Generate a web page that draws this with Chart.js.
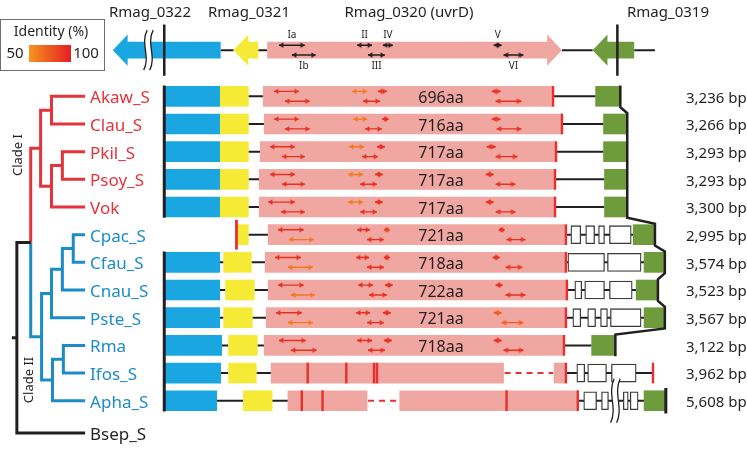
<!DOCTYPE html>
<html lang="en">
<head>
  <meta charset="UTF-8">
  <title>uvrD cluster across strains</title>
  <script src="https://cdn.jsdelivr.net/npm/chart.js@4.4.1/dist/chart.umd.min.js"></script>
  <style>
    html, body { margin: 0; padding: 0; background: #fff; }
    #wrap { width: 747px; height: 449px; }
  </style>
</head>
<body>
<div id="wrap"><canvas id="chart" width="747" height="449"></canvas></div>
<script>
  // ---------- data ----------
  const strains = ['Akaw_S', 'Clau_S', 'Pkil_S', 'Psoy_S', 'Vok', 'Cpac_S', 'Cfau_S', 'Cnau_S', 'Pste_S', 'Rma', 'Ifos_S', 'Apha_S'];
  const outgroup = 'Bsep_S';
  const outgroupRow = 12.17;
  const proteinLen = ['696aa', '716aa', '717aa', '717aa', '717aa', '721aa', '718aa', '722aa', '721aa', '718aa', '', ''];
  const clusterLen = ['3,236 bp', '3,266 bp', '3,293 bp', '3,293 bp', '3,300 bp', '2,995 bp', '3,574 bp', '3,523 bp', '3,567 bp', '3,122 bp', '3,962 bp', '5,608 bp'];

  // reference cluster (Rma) drawn on top
  const headerRow = -1.668;
  const headerGenes = ['Rmag_0322', 'Rmag_0321', 'Rmag_0320 (uvrD)', 'Rmag_0319'];
  const headerSpans = [[110, 219], [232, 257], [266, 564], [595, 637]];
  const headerStrand = [-1, -1, 1, -1];
  const headerSpacers = [[219, 232], [257, 266], [564, 595], [637, 658]];
  const clusterEdges = [162, 620];

  // gene spans per strain (schematic position)
  const rmag0322 = [[162, 218], [162, 218], [162, 218], [162, 218], [162, 218], null, [162, 218], [162, 218], [162, 218], [162, 220], [162, 219], [162, 215]];
  const rmag0321 = [[218, 247], [218, 247], [218, 247], [218, 247], [218, 247], [236, 247], [222, 250], [224, 253], [222, 251], [227, 256], [227, 255], [242, 271]];
  const uvrD = [[[262, 555]], [[263, 564]], [[259, 558]], [[258, 557]], [[258, 557]], [[267, 568]], [[264, 568]], [[267, 569]], [[265, 568]], [[263, 566]], [[270, 505], [556, 568]], [[287, 367], [400, 580]]];
  const rmag0319 = [[598, 623], [606, 630], [606, 630], [607, 630], [607, 630], [636, 658], [647, 668], [639, 661], [647, 668], [594, 618], null, [647, 669]];
  const inserts = [[], [], [], [], [], [[573, 583], [588, 597], [601, 607], [612, 634]], [[570, 607], [610, 644]], [[577, 584], [587, 607], [612, 635]], [[575, 583], [590, 598], [603, 610], [613, 644]], [], [[579, 587], [590, 609], [614, 639]], [[586, 599], [604, 611], [626, 631], [633, 641]]];
  const spacers = [
    [[247, 262], [555, 598]], [[247, 263], [564, 606]], [[247, 259], [558, 606]], [[247, 258], [557, 607]], [[247, 258], [557, 607]],
    [[247, 267], [568, 636]], [[218, 222], [250, 264], [568, 647]], [[218, 224], [253, 267], [569, 639]], [[218, 222], [251, 265], [568, 647]],
    [[220, 227], [256, 263], [566, 594]], [[219, 227], [255, 270], [568, 656]], [[215, 242], [271, 287], [580, 647]]
  ];
  const deleted = [[], [], [], [], [], [], [], [], [], [], [[505, 556]], [[367, 400]]];
  const stops = [[555], [564], [558], [557], [557], [568], [568], [569], [568], [566], [307, 346, 374, 377, 568, 656], [301, 322, 508, 580]];
  const truncatedStart = [null, null, null, null, null, 235, null, null, null, null, null, null];
  const borderRows = [0, 1, 2, 3, 4, 5, 6, 7, 8, 9];
  const endBarRows = [11];
  const bracketRows = [[0, 4], [6, 11]];

  // conserved helicase motifs
  const motifNames = ['Ia', 'Ib', 'II', 'III', 'IV', 'V', 'VI'];
  const motifHeader = [[278, 304], [291, 315], [357, 372], [368, 385], [383, 393], [495, 503], [505, 525]];
  const motifIa = [[273, 298], [273, 298], [269, 294], [269, 294], [267, 294], [277, 303], [274, 300], [277, 303], [275, 301], [278, 305]];
  const motifIb = [[284, 309], [284, 309], [281, 304], [281, 304], [280, 304], [288, 313], [287, 312], [290, 314], [287, 312], [290, 316]];
  const motifII = [[352, 367], [353, 367], [349, 364], [348, 363], [348, 363], [357, 370], [356, 369], [358, 373], [356, 370], [357, 372]];
  const motifIII = [[363, 380], [365, 382], [362, 378], [360, 377], [360, 377], [367, 384], [367, 384], [369, 387], [367, 384], [368, 385]];
  const motifIV = [[378, 387], [382, 389], [377, 385], [375, 383], [375, 383], [384, 390], [384, 390], [385, 393], [383, 391], [384, 392]];
  const motifV = [[493, 502], [493, 502], [488, 497], [487, 495], [487, 495], [500, 506], [494, 501], [497, 504], [495, 503], [495, 503]];
  const motifVI = [[497, 523], [498, 523], [497, 519], [497, 517], [497, 517], [508, 527], [507, 524], [507, 527], [503, 525], [505, 525]];
  // identity (%)
  const identIa = [92, 92, 92, 92, 92, 92, 92, 92, 92, 92];
  const identIb = [92, 92, 92, 92, 92, 62, 62, 62, 62, 92];
  const identII = [62, 62, 62, 62, 62, 92, 92, 92, 92, 92];
  const identIII = [92, 92, 92, 92, 92, 92, 92, 92, 92, 92];
  const identIV = [92, 92, 92, 92, 92, 85, 92, 92, 92, 92];
  const identV = [92, 92, 92, 92, 92, 92, 92, 92, 72, 92];
  const identVI = [92, 92, 92, 92, 92, 92, 88, 92, 72, 92];

  // phylogeny: x = branch depth
  const tree = { x: 13, children: [
    { x: 27, children: [
      { x: 37, clade: 'I', children: [
        { x: 48, children: ['Akaw_S', 'Clau_S'] },
        { x: 48, children: [{ x: 59, children: ['Pkil_S', 'Psoy_S'] }, 'Vok'] }
      ] },
      { x: 38, clade: 'II', children: [
        { x: 48, children: [{ x: 59, children: [{ x: 70, children: ['Cpac_S', 'Cfau_S'] }, 'Cnau_S'] }, 'Pste_S'] },
        { x: 49, children: [{ x: 60, children: ['Rma', 'Ifos_S'] }, 'Apha_S'] }
      ] }
    ] },
    'Bsep_S'
  ] };

  // ---------- style ----------
  const INK = '#231f20';
  const RED = '#e4333b';
  const BLUE = '#1b8cc8';
  const cladeColor = { I: RED, II: BLUE };
  const geneColor = ['#1aa7e1', '#f5ea36', '#f1a7a1', '#6e9b3b'];
  const STOP = '#e8312f';
  const FONT = '"Noto Sans", "Open Sans", sans-serif';
  const Y_MIN = -3.336, Y_MAX = 12.6;
  const ROW_PX = 449 / (Y_MAX - Y_MIN);
  const px = p => p / ROW_PX;          // pixels -> row units
  const TIP_X = 82;
  const motifLevel = [-1, 1, -1, 1, -1, -1, 1];

  function identityColor(v) {
    const t = Math.max(0, Math.min(1, (v - 50) / 50));
    const a = [247, 148, 29], b = [227, 30, 36];
    const c = a.map((k, i) => Math.round(k + (b[i] - k) * t));
    return 'rgb(' + c.join(',') + ')';
  }

  function polyData(polylines) {
    const d = [];
    polylines.forEach((pl, k) => {
      if (k) d.push({ x: NaN, y: NaN });
      pl.forEach(p => d.push({ x: p[0], y: p[1] }));
    });
    return d;
  }

  function barSet(label, data, color, thickness, order, extra) {
    return Object.assign({
      type: 'bar', label, data, indexAxis: 'y', grouped: false,
      backgroundColor: color, borderWidth: 0, barThickness: thickness, order
    }, extra || {});
  }

  function lineSet(label, data, color, width, order, extra) {
    return Object.assign({
      type: 'line', label, data, borderColor: color, borderWidth: width,
      pointRadius: 0, fill: false, spanGaps: false, order,
      borderCapStyle: 'butt', borderJoinStyle: 'miter'
    }, extra || {});
  }

  function spanBars(perRow) {
    const out = [];
    perRow.forEach((sp, i) => { if (sp) out.push({ x: sp, y: i }); });
    return out;
  }
  function multiBars(perRow) {
    const out = [];
    perRow.forEach((list, i) => list.forEach(sp => out.push({ x: sp, y: i })));
    return out;
  }
  function tickBars(perRow) {
    const out = [];
    perRow.forEach((list, i) => list.forEach(v => out.push({ x: [v - 0.9, v + 0.9], y: i })));
    return out;
  }

  // arrowhead sprite, tip at the centre, pointing right
  const headCache = {};
  function arrowHead(color) {
    if (headCache[color]) return headCache[color];
    const c = document.createElement('canvas');
    c.width = 10; c.height = 10;
    const g = c.getContext('2d');
    g.fillStyle = color;
    g.beginPath();
    g.moveTo(0.6, 5 - 2.7); g.lineTo(5, 5); g.lineTo(0.6, 5 + 2.7);
    g.closePath(); g.fill();
    headCache[color] = c;
    return c;
  }

  // ---------- build datasets ----------
  const datasets = [];

  // tree
  const treeLines = {};
  treeLines[INK] = []; treeLines[RED] = []; treeLines[BLUE] = [];
  const tipColor = {};
  function place(node, color) {
    if (typeof node === 'string') {
      tipColor[node] = color;
      return { x: TIP_X, y: node === outgroup ? outgroupRow : strains.indexOf(node) };
    }
    const kids = node.children.map(ch => {
      const c = (typeof ch === 'object' && ch.clade) ? cladeColor[ch.clade] : color;
      return { c, p: place(ch, c) };
    });
    const first = kids[0], last = kids[kids.length - 1];
    const y = (first.p.y + last.p.y) / 2;
    treeLines[first.c].push([[first.p.x, first.p.y], [node.x, first.p.y], [node.x, y]]);
    treeLines[last.c].push([[node.x, y], [node.x, last.p.y], [last.p.x, last.p.y]]);
    return { x: node.x, y };
  }
  const rootPos = place(tree, INK);
  treeLines[INK].push([[rootPos.x - 5, rootPos.y], [rootPos.x, rootPos.y]]);
  [INK, RED, BLUE].forEach(c => datasets.push(lineSet('tree', polyData(treeLines[c]), c, 3, 2)));

  // header cluster: spacer lines, arrows, boundary lines
  datasets.push(lineSet('header spacers', polyData(headerSpacers.map(s => [[s[0], headerRow], [s[1], headerRow]])), INK, 2, 6));
  headerSpans.forEach((sp, i) => {
    const head = 15, bh = px(8.5), hh = px(16), y = headerRow;
    let pts;
    if (headerStrand[i] < 0) {
      const a = sp[0], b = sp[1];
      pts = [[a, y], [a + head, y - hh], [a + head, y - bh], [b, y - bh], [b, y + bh], [a + head, y + bh], [a + head, y + hh], [a, y]];
    } else {
      const a = sp[0], b = sp[1];
      pts = [[b, y], [b - head, y - hh], [b - head, y - bh], [a, y - bh], [a, y + bh], [b - head, y + bh], [b - head, y + hh], [b, y]];
    }
    datasets.push(lineSet(headerGenes[i], polyData([pts]), geneColor[i], 0, 4, { fill: 'shape', backgroundColor: geneColor[i] }));
  });
  datasets.push(lineSet('cluster edges', polyData(clusterEdges.map(x => [[x, headerRow - px(26)], [x, headerRow + px(26)]])), INK, 2.5, 1));

  // strain rows
  const spacerLines = [];
  spacers.forEach((list, i) => list.forEach(s => spacerLines.push([[s[0], i], [s[1], i]])));
  datasets.push(lineSet('spacers', polyData(spacerLines), INK, 2, 6));
  const delLines = [];
  deleted.forEach((list, i) => list.forEach(s => delLines.push([[s[0] + 1, i], [s[1] - 1, i]])));
  datasets.push(lineSet('deleted', polyData(delLines), STOP, 2, 6, { borderDash: [6, 5] }));

  datasets.push(barSet('Rmag_0322', spanBars(rmag0322), geneColor[0], 20, 4));
  datasets.push(barSet('Rmag_0321', spanBars(rmag0321), geneColor[1], 20, 4));
  datasets.push(barSet('uvrD', multiBars(uvrD), geneColor[2], 20, 4));
  datasets.push(barSet('Rmag_0319', spanBars(rmag0319), geneColor[3], 20, 4));
  datasets.push(barSet('insertions', multiBars(inserts), '#ffffff', 18, 3, { borderWidth: 1.3, borderColor: '#3a3a3a', borderSkipped: false }));
  datasets.push(barSet('stops', tickBars(stops), STOP, 20, 1));
  datasets.push(barSet('truncated start', spanBars(truncatedStart.map(v => v === null ? null : [v - 1.1, v + 1.1])), STOP, 29, 1));

  // left bracket, right border following Rmag_0319, end bar
  datasets.push(lineSet('bracket', polyData(bracketRows.map(b => [[clusterEdges[0], b[0] - px(11)], [clusterEdges[0], b[1] + px(11)]])), INK, 3, 1));
  const border = [];
  borderRows.forEach(i => { border.push([rmag0319[i][1], i - px(11)]); border.push([rmag0319[i][1], i + px(11)]); });
  datasets.push(lineSet('border', polyData([border]), INK, 2.5, 1));
  datasets.push(lineSet('end bar', polyData(endBarRows.map(i => [[rmag0319[i][1], i - px(13)], [rmag0319[i][1], i + px(13)]])), INK, 3, 1));

  // motif arrows grouped by colour
  const motifRows = [motifIa, motifIb, motifII, motifIII, motifIV, motifV, motifVI];
  const motifIdent = [identIa, identIb, identII, identIII, identIV, identV, identVI];
  const arrowGroups = {};
  function addArrow(color, s, e, y) {
    if (!arrowGroups[color]) arrowGroups[color] = { data: [], rot: [] };
    const g = arrowGroups[color];
    if (g.data.length) { g.data.push({ x: NaN, y: NaN }); g.rot.push(0); }
    g.data.push({ x: s, y }); g.rot.push(180);
    g.data.push({ x: e, y }); g.rot.push(0);
  }
  motifHeader.forEach((sp, m) => addArrow(INK, sp[0], sp[1], headerRow + motifLevel[m] * px(5)));
  motifRows.forEach((rows, m) => rows.forEach((sp, i) => addArrow(identityColor(motifIdent[m][i]), sp[0], sp[1], i + motifLevel[m] * px(5))));
  Object.keys(arrowGroups).forEach(c => {
    const g = arrowGroups[c];
    datasets.push(lineSet('motifs', g.data, c, 1.4, 0, {
      pointRadius: 4, pointStyle: arrowHead(c), pointRotation: g.rot, pointBorderWidth: 0
    }));
  });

  // ---------- text, legend and break marks ----------
  const headerLabelX = [150, 249, 409, 668];
  const breaks = [{ x: 146, row: headerRow, h: 40 }, { x: 618, row: 11, h: 44 }];

  function drawBreak(ctx, cx, cy, h) {
    const gap = 6, bend = 3.5;
    const curve = (ox, move) => {
      if (move) ctx.moveTo(ox + bend / 2, cy - h / 2);
      ctx.bezierCurveTo(ox - bend * 1.5, cy - h / 6, ox + bend * 1.5, cy + h / 6, ox - bend / 2, cy + h / 2);
    };
    ctx.save();
    ctx.beginPath();
    curve(cx - gap / 2, true);
    ctx.lineTo(cx + gap / 2 - bend / 2, cy + h / 2);
    ctx.bezierCurveTo(cx + gap / 2 + bend * 1.5, cy + h / 6, cx + gap / 2 - bend * 1.5, cy - h / 6, cx + gap / 2 + bend / 2, cy - h / 2);
    ctx.closePath();
    ctx.fillStyle = '#fff';
    ctx.fill();
    ctx.beginPath();
    curve(cx - gap / 2, true);
    curve(cx + gap / 2, true);
    ctx.strokeStyle = INK; ctx.lineWidth = 1.3;
    ctx.stroke();
    ctx.restore();
  }

  const figureText = {
    id: 'figureText',
    afterDatasetsDraw(chart) {
      const { ctx } = chart;
      const sx = chart.scales.x, sy = chart.scales.y;
      const X = v => sx.getPixelForValue(v), Y = v => sy.getPixelForValue(v);
      ctx.save();

      breaks.forEach(b => drawBreak(ctx, X(b.x), Y(b.row), b.h));

      ctx.textBaseline = 'middle';
      ctx.fillStyle = INK;

      // gene names
      ctx.font = '15px ' + FONT;
      ctx.textAlign = 'center';
      headerGenes.forEach((g, i) => ctx.fillText(g, headerLabelX[i], Y(headerRow) - 37));

      // motif names
      ctx.font = '10px ' + FONT;
      motifHeader.forEach((sp, m) => {
        const yy = Y(headerRow) + motifLevel[m] * 5 + (motifLevel[m] < 0 ? -10 : 11);
        ctx.fillText(motifNames[m], X((sp[0] + sp[1]) / 2), yy);
      });

      // protein lengths
      ctx.font = '16px ' + FONT;
      proteinLen.forEach((t, i) => { if (t) ctx.fillText(t, 441, Y(i) + 2); });

      // cluster lengths
      ctx.textAlign = 'left';
      ctx.font = '15px ' + FONT;
      clusterLen.forEach((t, i) => ctx.fillText(t, 686, Y(i) + 2));

      // strain names
      ctx.font = '17px ' + FONT;
      strains.concat([outgroup]).forEach(s => {
        const row = s === outgroup ? outgroupRow : strains.indexOf(s);
        ctx.fillStyle = tipColor[s];
        ctx.fillText(s, X(TIP_X + 5), Y(row) + 2);
      });

      // clade labels
      ctx.fillStyle = INK;
      ctx.font = '13px ' + FONT;
      ctx.textAlign = 'center';
      [['Clade I', 18, 155], ['Clade II', 29, 380]].forEach(c => {
        ctx.save();
        ctx.translate(c[1], c[2]);
        ctx.rotate(-Math.PI / 2);
        ctx.fillText(c[0], 0, 0);
        ctx.restore();
      });

      // identity legend
      ctx.strokeStyle = '#6d6e71';
      ctx.lineWidth = 1;
      ctx.strokeRect(0.5, 19.5, 104, 51);
      ctx.font = '14px ' + FONT;
      ctx.fillText('Identity (%)', 51, 32);
      const grad = ctx.createLinearGradient(29, 0, 71, 0);
      grad.addColorStop(0, identityColor(50));
      grad.addColorStop(1, identityColor(100));
      ctx.fillStyle = grad;
      ctx.fillRect(29, 45, 42, 17);
      ctx.fillStyle = INK;
      ctx.font = '15px ' + FONT;
      ctx.fillText('50', 15, 54);
      ctx.fillText('100', 86, 54);

      ctx.restore();
    }
  };

  new Chart(document.getElementById('chart'), {
    type: 'bar',
    data: { datasets },
    options: {
      responsive: false,
      devicePixelRatio: 1,
      animation: false,
      events: [],
      layout: { padding: 0 },
      scales: {
        x: { type: 'linear', min: 0, max: 747, offset: false, display: false },
        y: { type: 'linear', min: Y_MIN, max: Y_MAX, reverse: true, offset: false, display: false }
      },
      plugins: { legend: { display: false }, tooltip: { enabled: false } }
    },
    plugins: [figureText]
  });
</script>
</body>
</html>
